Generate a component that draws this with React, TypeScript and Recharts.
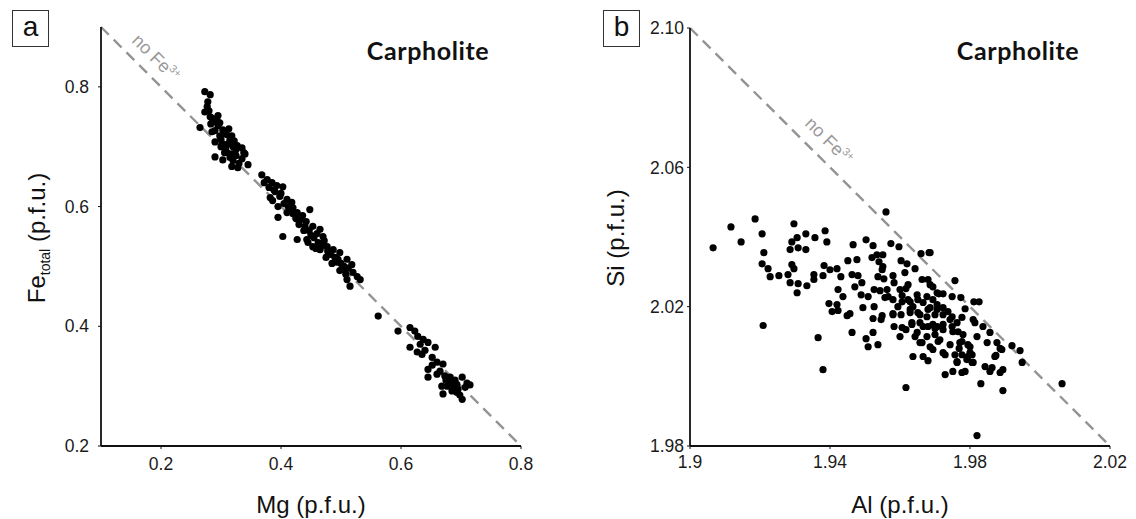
import React from "react";
import { ScatterChart, Scatter, XAxis, YAxis, ReferenceLine } from "recharts";

// panel a: Mg vs Fe(total), p.f.u.
const MG_TICKS = [0.2, 0.4, 0.6, 0.8];
const FE_TICKS = [0.2, 0.4, 0.6, 0.8];
const MG_DOMAIN = [0.1, 0.8];
const FE_DOMAIN = [0.2, 0.9];
const NO_FE3_A = [
  { x: 0.1, y: 0.9 },
  { x: 0.8, y: 0.2 },
];

const upperCluster: [number, number][] = [
  [0.273, 0.792], [0.282, 0.787], [0.277, 0.767], [0.273, 0.758], [0.265, 0.732],
  [0.282, 0.75], [0.293, 0.745], [0.298, 0.74], [0.303, 0.728], [0.31, 0.72],
  [0.315, 0.712], [0.29, 0.708], [0.285, 0.725], [0.32, 0.7], [0.335, 0.698],
  [0.29, 0.683], [0.303, 0.678], [0.318, 0.667], [0.328, 0.665], [0.345, 0.67],
  [0.31, 0.69], [0.315, 0.682], [0.295, 0.735], [0.305, 0.722], [0.3, 0.712],
  [0.312, 0.705], [0.325, 0.695], [0.308, 0.698], [0.318, 0.688], [0.322, 0.71],
  [0.3, 0.7], [0.29, 0.727], [0.283, 0.738], [0.298, 0.718], [0.32, 0.677],
  [0.335, 0.68], [0.34, 0.688], [0.28, 0.76], [0.278, 0.775], [0.33, 0.672],
  [0.306, 0.69], [0.313, 0.73], [0.318, 0.718], [0.285, 0.748], [0.295, 0.752],
  [0.327, 0.702], [0.338, 0.69], [0.288, 0.742], [0.302, 0.705], [0.325, 0.685],
];

const middleCluster: [number, number][] = [
  [0.368, 0.653], [0.377, 0.645], [0.385, 0.64], [0.403, 0.633], [0.39, 0.625],
  [0.398, 0.617], [0.41, 0.612], [0.418, 0.607], [0.382, 0.615], [0.395, 0.582],
  [0.403, 0.55], [0.415, 0.595], [0.427, 0.59], [0.432, 0.578], [0.448, 0.595],
  [0.44, 0.567], [0.453, 0.567], [0.465, 0.562], [0.427, 0.545], [0.443, 0.545],
  [0.453, 0.533], [0.47, 0.55], [0.477, 0.533], [0.487, 0.528], [0.498, 0.523],
  [0.51, 0.512], [0.518, 0.503], [0.493, 0.507], [0.503, 0.495], [0.51, 0.478],
  [0.527, 0.483], [0.532, 0.478], [0.515, 0.467], [0.372, 0.64], [0.38, 0.632],
  [0.388, 0.628], [0.393, 0.635], [0.4, 0.622], [0.405, 0.605], [0.412, 0.6],
  [0.42, 0.598], [0.425, 0.58], [0.43, 0.57], [0.436, 0.585], [0.442, 0.575],
  [0.447, 0.56], [0.45, 0.552], [0.455, 0.548], [0.46, 0.555], [0.462, 0.54],
  [0.468, 0.535], [0.472, 0.543], [0.478, 0.525], [0.483, 0.52], [0.49, 0.515],
  [0.495, 0.512], [0.5, 0.505], [0.505, 0.5], [0.512, 0.497], [0.52, 0.49],
  [0.41, 0.59], [0.42, 0.588], [0.438, 0.56], [0.445, 0.54], [0.458, 0.53],
  [0.465, 0.528], [0.475, 0.515], [0.485, 0.505], [0.498, 0.493], [0.508, 0.487],
  [0.395, 0.6], [0.386, 0.61],
];

const lowerCluster: [number, number][] = [
  [0.562, 0.417], [0.595, 0.392], [0.615, 0.398], [0.623, 0.392], [0.628, 0.383],
  [0.637, 0.378], [0.645, 0.373], [0.615, 0.365], [0.627, 0.357], [0.635, 0.353],
  [0.657, 0.365], [0.652, 0.348], [0.66, 0.34], [0.67, 0.337], [0.645, 0.328],
  [0.665, 0.325], [0.645, 0.315], [0.673, 0.317], [0.682, 0.315], [0.668, 0.3],
  [0.677, 0.3], [0.685, 0.307], [0.693, 0.303], [0.702, 0.315], [0.715, 0.302],
  [0.707, 0.298], [0.67, 0.287], [0.693, 0.29], [0.702, 0.278], [0.675, 0.31],
  [0.688, 0.298], [0.68, 0.305], [0.695, 0.295], [0.66, 0.32], [0.652, 0.335],
  [0.64, 0.36], [0.632, 0.37], [0.698, 0.285], [0.685, 0.292], [0.69, 0.31],
  [0.71, 0.305],
];

// panel b: Al vs Si, p.f.u.
const AL_TICKS = [1.9, 1.94, 1.98, 2.02];
const AL_TICK_LABELS = ["1.9", "1.94", "1.98", "2.02"];
const SI_TICKS = [1.98, 2.02, 2.06, 2.1];
const AL_DOMAIN = [1.9, 2.02];
const SI_DOMAIN = [1.98, 2.1];
const NO_FE3_B = [
  { x: 1.9, y: 2.1 },
  { x: 2.02, y: 1.98 },
];

const sparsePoints: [number, number][] = [
  [1.9066, 2.0369], [1.9117, 2.0429], [1.9146, 2.0386], [1.9186, 2.0452], [1.9206, 2.0409],
  [1.9211, 2.0355], [1.9206, 2.0323], [1.9223, 2.0309], [1.9229, 2.0286], [1.9254, 2.0289],
  [1.928, 2.0292], [1.9286, 2.0269], [1.9309, 2.0266], [1.9306, 2.024], [1.9334, 2.026],
  [1.9354, 2.0278], [1.9354, 2.0292], [1.9286, 2.0364], [1.9291, 2.0386], [1.9306, 2.0398],
  [1.9297, 2.0438], [1.9309, 2.0369], [1.9331, 2.0364], [1.9331, 2.0409], [1.9357, 2.0398],
  [1.9386, 2.0418], [1.9391, 2.0386], [1.9291, 2.0321], [1.9297, 2.0309], [1.9209, 2.0146],
  [1.9366, 2.0111], [1.938, 2.0019], [1.9383, 2.0318], [1.94, 2.0306], [1.938, 2.0289],
  [1.942, 2.0309], [1.9431, 2.0286], [1.9423, 2.0249], [1.9437, 2.0229], [1.9397, 2.0209],
  [1.942, 2.0206], [1.9406, 2.0186], [1.9423, 2.0189], [1.9449, 2.0174], [1.9457, 2.018],
  [1.9463, 2.0126], [1.9451, 2.0332], [1.9466, 2.0378], [1.9477, 2.0335], [1.9463, 2.0292],
  [1.948, 2.0289], [1.9491, 2.0269], [1.9471, 2.0257], [1.9489, 2.0234], [1.9509, 2.0229],
  [1.9494, 2.0197], [1.9503, 2.0392], [1.9523, 2.0375], [1.952, 2.0341], [1.9534, 2.0349],
];

const densePoints: [number, number][] = [
  [1.954, 2.0329], [1.9537, 2.0286], [1.9549, 2.0306], [1.9554, 2.028], [1.9526, 2.0249],
  [1.9543, 2.0246], [1.9563, 2.0249], [1.9574, 2.0381], [1.9597, 2.0372], [1.958, 2.0289],
  [1.9583, 2.0269], [1.9566, 2.0229], [1.958, 2.022], [1.9606, 2.0232], [1.9594, 2.02],
  [1.9526, 2.02], [1.9549, 2.0174], [1.9523, 2.0166], [1.9546, 2.0163], [1.958, 2.018],
  [1.9603, 2.0177], [1.9583, 2.0143], [1.9523, 2.0126], [1.9503, 2.0108], [1.9509, 2.0085],
  [1.9537, 2.0091], [1.96, 2.0114], [1.956, 2.0472], [1.9603, 2.0332], [1.9617, 2.0252],
  [1.9617, 2.0134], [1.9617, 1.9968], [1.966, 2.0352], [1.9683, 2.0355], [1.9551, 2.0349],
  [1.962, 2.0323], [1.9643, 2.0309], [1.9551, 2.0315], [1.9614, 2.0298], [1.9623, 2.0263],
  [1.96, 2.0249], [1.9557, 2.0226], [1.9606, 2.0214], [1.9629, 2.0214], [1.9649, 2.0234],
  [1.9663, 2.0278], [1.968, 2.0278], [1.9694, 2.0257], [1.9711, 2.0237], [1.9723, 2.0237],
  [1.9757, 2.0275], [1.9749, 2.0229], [1.9774, 2.0226], [1.9811, 2.0214], [1.9826, 2.0214],
  [1.9786, 2.0194], [1.9666, 2.0212], [1.9686, 2.0197], [1.9706, 2.0206], [1.9723, 2.0197],
  [1.9629, 2.0192], [1.9651, 2.0183], [1.9677, 2.0171], [1.97, 2.0177], [1.9723, 2.0177],
  [1.9749, 2.0171], [1.9777, 2.0169], [1.9809, 2.0163], [1.9814, 2.0154], [1.9837, 2.0143],
  [1.958, 2.0177], [1.9606, 2.014], [1.9634, 2.0149], [1.9657, 2.0154], [1.968, 2.0143],
  [1.97, 2.0137], [1.9723, 2.0149], [1.9749, 2.0143], [1.9766, 2.0128], [1.978, 2.012],
  [1.982, 2.0114], [1.9857, 2.0126], [1.9643, 2.0114], [1.9663, 2.0097], [1.9686, 2.0085],
  [1.9709, 2.01], [1.9743, 2.0091], [1.9777, 2.01], [1.9794, 2.0091], [1.9769, 2.008],
  [1.9777, 2.0062], [1.98, 2.0068], [1.9849, 2.0097], [1.9877, 2.0097], [1.9886, 2.008],
  [1.9874, 2.006], [1.992, 2.0088], [1.9943, 2.0074], [1.9949, 2.004], [1.9637, 2.0057],
  [1.9666, 2.0057], [1.968, 2.0045], [1.9723, 2.0068], [1.9763, 2.0042], [1.9806, 2.004],
  [1.9794, 2.0057], [1.9786, 2.0014], [1.9751, 2.0014], [1.9729, 2.0005], [1.9777, 2.0011],
  [1.9843, 2.0028], [1.9857, 2.0014], [1.9886, 2.0011], [1.9894, 2.0019], [1.9831, 1.9979],
  [1.9894, 1.9959], [2.0063, 1.9979], [1.982, 1.983], [1.9686, 2.0355], [1.9686, 2.0263],
  [1.9706, 2.024], [1.9737, 2.0186], [1.9743, 2.0163], [1.9763, 2.0154], [1.9706, 2.0143],
  [1.9723, 2.0134], [1.9751, 2.0128], [1.9771, 2.0097], [1.98, 2.0085], [1.9871, 2.0057],
  [1.9891, 2.0077], [1.9714, 2.0105], [1.9694, 2.0077], [1.9729, 2.0062], [1.9757, 2.0062],
  [1.9763, 2.004], [1.9791, 2.0048], [1.9806, 2.0062], [1.9809, 2.004], [1.9863, 2.0025],
  [1.9623, 2.022], [1.9637, 2.02], [1.9651, 2.022], [1.9677, 2.0229], [1.9694, 2.022],
  [1.9629, 2.0183], [1.9657, 2.0177], [1.968, 2.0192], [1.9706, 2.0192], [1.9634, 2.0154],
  [1.9666, 2.0143], [1.9694, 2.0149], [1.9649, 2.0126], [1.9677, 2.0114], [1.97, 2.012],
  [1.9657, 2.0097],
];

const toXY = (pts: [number, number][]) => pts.map(([x, y]) => ({ x, y }));
const panelAData = toXY([...upperCluster, ...middleCluster, ...lowerCluster]);
const panelBData = toXY([...sparsePoints, ...densePoints]);

const FONT = "'Liberation Sans', Arial, sans-serif";
const tickStyle = { fontSize: 17.5, fill: "#1a1a1a", fontFamily: FONT };
const axisLine = { stroke: "#111", strokeWidth: 1.8 };

const Dot = (p: any) => <circle cx={p.cx} cy={p.cy} r={3.6} fill="#000" />;

function PanelLetter({ left, text }: { left: number; text: string }) {
  return (
    <div
      style={{
        position: "absolute",
        left,
        top: 10,
        width: 35,
        height: 35,
        border: "1.6px solid #333",
        fontFamily: FONT,
        fontSize: 28,
        lineHeight: "32px",
        textAlign: "center",
        color: "#111",
      }}
    >
      {text}
    </div>
  );
}

function NoFe3({ cx, cy }: { cx: number; cy: number }) {
  return (
    <div
      style={{
        position: "absolute",
        left: cx,
        top: cy,
        transform: "translate(-50%, -50%) rotate(45deg)",
        fontFamily: FONT,
        fontSize: 18,
        color: "#9a9a9a",
        whiteSpace: "nowrap",
      }}
    >
      no Fe<sup style={{ fontSize: 11 }}>3+</sup>
    </div>
  );
}

function Title({ cx }: { cx: number }) {
  return (
    <div
      style={{
        position: "absolute",
        left: cx,
        top: 50,
        transform: "translate(-50%, -50%)",
        fontFamily: "Lato, sans-serif",
        fontWeight: 700,
        fontSize: 25,
        letterSpacing: 0.6,
        color: "#111",
        whiteSpace: "nowrap",
      }}
    >
      Carpholite
    </div>
  );
}

function AxisTitle({ cx, cy, rotate, children }: any) {
  return (
    <div
      style={{
        position: "absolute",
        left: cx,
        top: cy,
        transform: `translate(-50%, -50%)${rotate ? " rotate(-90deg)" : ""}`,
        fontFamily: FONT,
        fontSize: 24,
        color: "#111",
        whiteSpace: "nowrap",
      }}
    >
      {children}
    </div>
  );
}

export default function App() {
  return (
    <div style={{ position: "absolute", left: 0, top: 0, width: 1136, height: 519, background: "#fff" }}>
      <div style={{ position: "absolute", left: 0, top: 0 }}>
        <ScatterChart width={560} height={519} margin={{ top: 27, right: 39, bottom: 43, left: 0 }}>
          <XAxis
            type="number"
            dataKey="x"
            domain={MG_DOMAIN}
            ticks={MG_TICKS}
            interval={0}
            height={30}
            tickSize={3}
            tickMargin={9}
            tick={tickStyle}
            axisLine={axisLine}
            tickLine={{ stroke: "#111" }}
            tickFormatter={(v: number) => v.toFixed(1)}
          />
          <YAxis
            type="number"
            dataKey="y"
            domain={FE_DOMAIN}
            ticks={FE_TICKS}
            interval={0}
            width={101}
            tickSize={3}
            tickMargin={9}
            tick={tickStyle}
            axisLine={axisLine}
            tickLine={{ stroke: "#111" }}
            tickFormatter={(v: number) => v.toFixed(1)}
          />
          <ReferenceLine
            segment={NO_FE3_A}
            stroke="#939393"
            strokeWidth={2.4}
            strokeDasharray="11 7"
            ifOverflow="visible"
          />
          <Scatter data={panelAData} shape={Dot} isAnimationActive={false} />
        </ScatterChart>
      </div>

      <div style={{ position: "absolute", left: 568, top: 0 }}>
        <ScatterChart width={568} height={519} margin={{ top: 28, right: 26, bottom: 43, left: 0 }}>
          <XAxis
            type="number"
            dataKey="x"
            domain={AL_DOMAIN}
            ticks={AL_TICKS}
            interval={0}
            height={30}
            tickSize={3}
            tickMargin={7}
            tick={tickStyle}
            axisLine={axisLine}
            tickLine={{ stroke: "#111" }}
            tickFormatter={(v: number, i: number) => AL_TICK_LABELS[i] ?? String(v)}
          />
          <YAxis
            type="number"
            dataKey="y"
            domain={SI_DOMAIN}
            ticks={SI_TICKS}
            interval={0}
            width={122}
            tickSize={3}
            tickMargin={3}
            tick={tickStyle}
            axisLine={axisLine}
            tickLine={{ stroke: "#111" }}
            tickFormatter={(v: number) => v.toFixed(2)}
          />
          <ReferenceLine
            segment={NO_FE3_B}
            stroke="#939393"
            strokeWidth={2.4}
            strokeDasharray="11 7"
            ifOverflow="visible"
          />
          <Scatter data={panelBData} shape={Dot} isAnimationActive={false} />
        </ScatterChart>
      </div>

      <PanelLetter left={12} text="a" />
      <PanelLetter left={603} text="b" />
      <Title cx={428} />
      <Title cx={1018} />
      <NoFe3 cx={156} cy={58} />
      <NoFe3 cx={829} cy={141} />
      <AxisTitle cx={38} cy={238} rotate>
        Fe<sub style={{ fontSize: 14 }}>total</sub> (p.f.u.)
      </AxisTitle>
      <AxisTitle cx={616} cy={238} rotate>
        Si (p.f.u.)
      </AxisTitle>
      <AxisTitle cx={311} cy={505}>
        Mg (p.f.u.)
      </AxisTitle>
      <AxisTitle cx={900} cy={505}>
        Al (p.f.u.)
      </AxisTitle>
    </div>
  );
}
